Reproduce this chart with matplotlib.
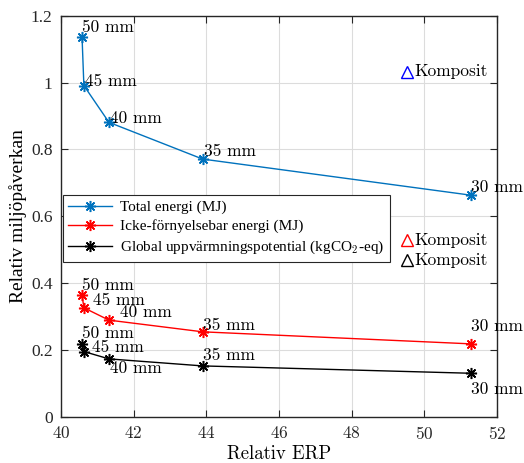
import numpy as np
import matplotlib
matplotlib.use("Agg")
import matplotlib.pyplot as plt

plt.rcParams['font.family'] = ['cmr10', 'DejaVu Serif']
plt.rcParams['mathtext.fontset'] = 'cm'
plt.rcParams['axes.formatter.use_mathtext'] = True

# relative ERP for the five thicknesses
erp = [40.58, 40.63, 41.32, 43.90, 51.28]
thick = ['50 mm', '45 mm', '40 mm', '35 mm', '30 mm']

total_energi = [1.135, 0.991, 0.881, 0.771, 0.663]
icke_fornyelsebar = [0.364, 0.326, 0.289, 0.254, 0.218]
gwp = [0.218, 0.195, 0.173, 0.152, 0.130]

# Komposit reference points
komp_erp = [49.53, 49.53, 49.53]
komp_val = [1.033, 0.529, 0.469]
komp_col = ['b', 'r', 'k']

series_names = ['Total energi (MJ)',
                'Icke-förnyelsebar energi (MJ)',
                'Global uppvärmningspotential (kgCO$_2$-eq)']
series_cols = ['#0072BD', 'r', 'k']

# label offsets (dx, dy) in data units
offs = [
    [(0.0, 0.030), (0.03, 0.012), (0.03, 0.012), (0.03, 0.022), (0.01, 0.023)],
    [(0.0, 0.030), (0.25, 0.021), (0.31, 0.022), (0.02, 0.020), (0.0, 0.052)],
    [(0.0, 0.030), (0.22, 0.012), (0.02, -0.028), (0.02, 0.033), (0.0, -0.048)],
]

times = 'Liberation Serif'
ast = (8, 2, 0)

fig = plt.figure(figsize=(5.24, 4.63), dpi=100)
ax = fig.add_axes([0.1164, 0.100, 0.832, 0.866])

data = [total_energi, icke_fornyelsebar, gwp]
for vals, name, col, off in zip(data, series_names, series_cols, offs):
    ax.plot(erp, vals, '-', marker=ast, color=col, lw=1, ms=8, mew=1.1, label=name)
    for x, y, t, (dx, dy) in zip(erp, vals, thick, off):
        ax.text(x + dx, y + dy, t, fontsize=12.5, ha='left', va='center')

for x, y, c in zip(komp_erp, komp_val, komp_col):
    ax.plot(x, y, '^', mfc='none', mec=c, ms=8, mew=1, zorder=5)
    ax.text(x + 0.2, y, 'Komposit', fontsize=12.5, ha='left', va='center', zorder=5)

ax.set_xlim(40, 52)
ax.set_ylim(0, 1.2)
ax.set_xticks(np.arange(40, 53, 2))
ax.set_yticks([0, 0.2, 0.4, 0.6, 0.8, 1.0, 1.2])
ax.set_yticklabels(['0', '0.2', '0.4', '0.6', '0.8', '1', '1.2'],
                   family=times, fontsize=13)
ax.set_xlabel('Relativ ERP', fontsize=13.5, labelpad=2)
ax.set_ylabel('Relativ miljöpåverkan', family=times, fontsize=14, labelpad=3)
ax.grid(True, color='#dcdcdc', lw=0.8)
ax.set_axisbelow(True)
ax.tick_params(direction='in', top=True, right=True, length=5, width=0.8,
               labelsize=12.5, colors='#262626')
ax.tick_params(axis='y', pad=6)
ax.tick_params(axis='x', pad=6)
for s in ax.spines.values():
    s.set_color('#262626')
    s.set_linewidth(1.0)

leg = ax.legend(loc='upper left', bbox_to_anchor=(0.004, 0.553),
                prop={'family': [times, 'DejaVu Serif'], 'size': 11},
                numpoints=1, handlelength=2.9, handletextpad=0.5, labelspacing=0.35,
                borderpad=0.35, fancybox=False, framealpha=1, edgecolor='#262626',
                borderaxespad=0)
leg.get_frame().set_linewidth(0.8)

fig.savefig('out.png', dpi=100)
